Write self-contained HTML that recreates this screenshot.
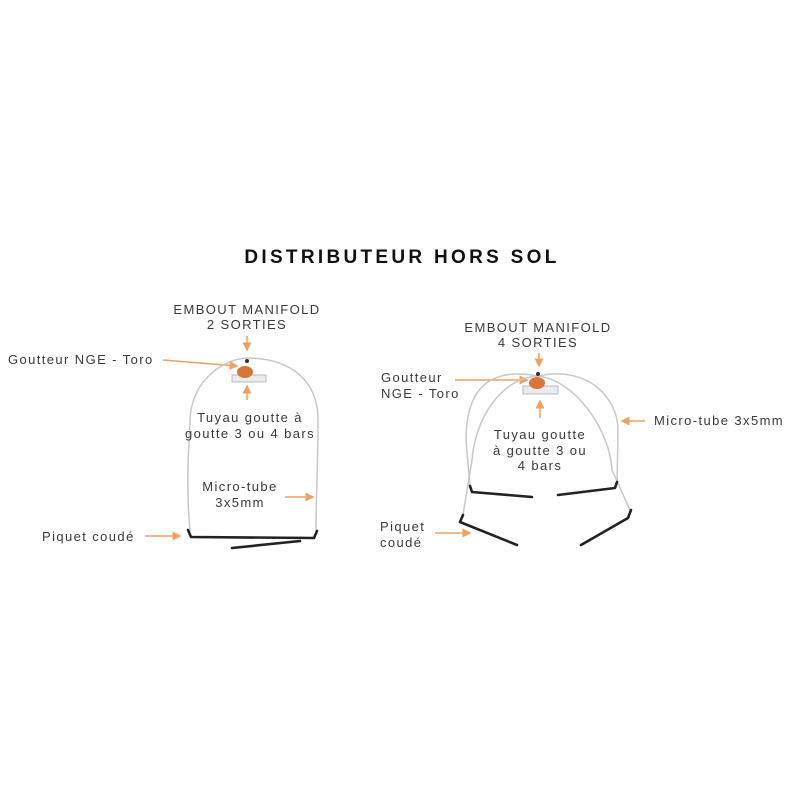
<!DOCTYPE html>
<html><head><meta charset="utf-8"><style>
html,body{margin:0;padding:0;background:#fff;}
svg{display:block;}
text{font-family:"Liberation Sans","DejaVu Sans",sans-serif;fill:#3a3a3a;font-size:13px;letter-spacing:1.4px;}
.t{font-size:19px;font-weight:bold;fill:#111;letter-spacing:3.3px;}
.a{stroke:#f0a060;stroke-width:1.5;fill:none;}
.w{stroke:#c8c8c8;stroke-width:1.5;fill:none;}
.s{stroke:#222;stroke-width:2.6;fill:none;stroke-linecap:round;stroke-linejoin:round;}
</style></head><body>
<svg width="800" height="800" viewBox="0 0 800 800" xmlns="http://www.w3.org/2000/svg">
<defs><marker id="m" markerWidth="6" markerHeight="6" refX="5" refY="3" orient="auto"><path d="M0,0 L6,3 L0,6 z" fill="#f0a060"/></marker></defs>
<text x="402" y="263" text-anchor="middle" class="t">DISTRIBUTEUR HORS SOL</text>

<!-- LEFT -->
<text x="247" y="314" text-anchor="middle">EMBOUT MANIFOLD</text>
<text x="247" y="329" text-anchor="middle">2 SORTIES</text>
<line x1="247" y1="336" x2="247" y2="350" class="a" marker-end="url(#m)"/>
<text x="8" y="364">Goutteur NGE - Toro</text>
<line x1="163" y1="360" x2="237" y2="366" class="a" marker-end="url(#m)"/>
<path d="M190,532 C185,470 190,440 190,420 C192,375 230,358 247,358 C290,358 318,380 318,420 C318,460 316,500 316,532" class="w"/>
<rect x="232" y="375" width="34" height="7" fill="#e8ecec" stroke="#aab" stroke-width="0.8"/>
<ellipse cx="245" cy="372" rx="8" ry="6" fill="#d9743a"/>
<circle cx="247" cy="361" r="2" fill="#333"/>
<line x1="247" y1="400" x2="247" y2="386" class="a" marker-end="url(#m)"/>
<text x="250" y="422" text-anchor="middle">Tuyau goutte à</text>
<text x="250" y="438" text-anchor="middle">goutte 3 ou 4 bars</text>
<text x="240" y="491" text-anchor="middle">Micro-tube</text>
<text x="240" y="507" text-anchor="middle">3x5mm</text>
<line x1="285" y1="497" x2="313" y2="497" class="a" marker-end="url(#m)"/>
<text x="42" y="541">Piquet coudé</text>
<line x1="145" y1="536" x2="180" y2="536" class="a" marker-end="url(#m)"/>
<path d="M188,530 L191,537 L314,538 L317,531" class="s"/>
<path d="M232,548 L300,541" class="s" stroke-width="2.2"/>

<!-- RIGHT -->
<text x="538" y="332" text-anchor="middle">EMBOUT MANIFOLD</text>
<text x="538" y="347" text-anchor="middle">4 SORTIES</text>
<line x1="539" y1="353" x2="539" y2="366" class="a" marker-end="url(#m)"/>
<text x="381" y="382">Goutteur</text>
<text x="381" y="398">NGE - Toro</text>
<line x1="455" y1="380" x2="527" y2="380" class="a" marker-end="url(#m)"/>
<path d="M538,376 C480,365 466,400 466,440 L470,488" class="w"/>
<path d="M538,376 C590,365 618,400 618,430 L617,483" class="w"/>
<path d="M538,376 C500,378 475,420 472,460 L463,515" class="w"/>
<path d="M538,376 C575,380 610,430 612,470 L630,510" class="w"/>
<rect x="523" y="386" width="35" height="8" fill="#e8ecec" stroke="#aab" stroke-width="0.8"/>
<ellipse cx="537" cy="383" rx="8" ry="6" fill="#d9743a"/>
<circle cx="538" cy="374" r="2" fill="#333"/>
<line x1="540" y1="418" x2="540" y2="401" class="a" marker-end="url(#m)"/>
<text x="540" y="439" text-anchor="middle">Tuyau goutte</text>
<text x="540" y="455" text-anchor="middle">à goutte 3 ou</text>
<text x="540" y="470" text-anchor="middle">4 bars</text>
<text x="654" y="425">Micro-tube 3x5mm</text>
<line x1="645" y1="421" x2="622" y2="421" class="a" marker-end="url(#m)"/>
<text x="380" y="531">Piquet</text>
<text x="380" y="547">coudé</text>
<line x1="435" y1="533" x2="470" y2="533" class="a" marker-end="url(#m)"/>
<path d="M470,486 L472,492 L532,497" class="s"/>
<path d="M617,482 L615,488 L558,495" class="s"/>
<path d="M463,515 L460,522 L517,545" class="s"/>
<path d="M631,510 L628,518 L581,545" class="s"/>
</svg>
</body></html>
